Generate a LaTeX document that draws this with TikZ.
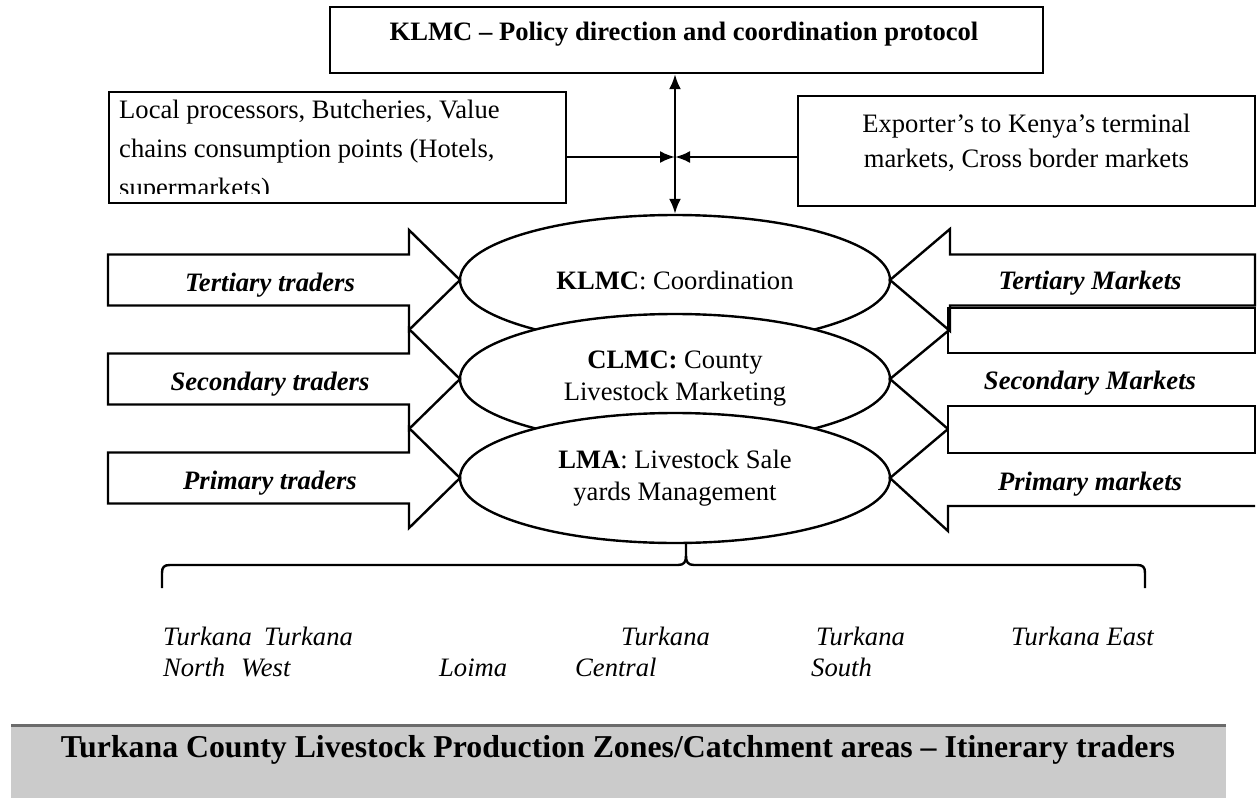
\documentclass[tikz,border=0pt]{standalone}
\usepackage{fontspec}
\setmainfont{Liberation Serif}
\usetikzlibrary{calc,shapes.geometric,arrows.meta}
\newcommand\txt{\fontsize{13.3}{16}\selectfont}
\newcommand\bartxt{\fontsize{15.9}{19}\selectfont}
\definecolor{barfill}{HTML}{CBCBCB}
\definecolor{barline}{HTML}{6B6B6B}
\tikzset{
  box/.style={draw,inner sep=0pt,minimum width=228.5pt,minimum height=55.5pt},
  oval/.style={draw,fill=white,ellipse,inner sep=0pt,minimum width=215pt,minimum height=65pt,align=center,font=\txt},
  line/.style={anchor=base,inner sep=0pt,font=\txt},
  lbl/.style={anchor=base,inner sep=0pt,font=\txt\bfseries\itshape},
  zone/.style={anchor=base west,inner sep=0pt,font=\txt\itshape},
  tip/.style={-{Latex[length=7.5pt,width=6pt]}},
  dbltip/.style={{Latex[length=7.5pt,width=6pt]}-{Latex[length=7.5pt,width=6pt]}}
}
\begin{document}
\begin{tikzpicture}[x=0.5pt,y=-0.5pt,line width=1.2pt]
      \useasboundingbox (0,0) rectangle (1259,798);
      % policy box
      \node[box,minimum width=356.5pt,minimum height=33pt] (policy) at (686.5,40) {};
      \node[line,font=\txt\bfseries] (policytext) at (684,40) {KLMC – Policy direction and coordination protocol};
      % buyers and exporters
      \node[box] (buyers) at (337.5,147.5) {};
      \begin{scope}
        \clip (109,92) rectangle (566,193);
        \node[line,anchor=base west] (buyers1) at (118,118) {Local processors, Butcheries, Value};
        \node[line,anchor=base west] (buyers2) at (118,157) {chains consumption points (Hotels,};
        \node[line,anchor=base west] (buyers3) at (118,196) {supermarkets)};
      \end{scope}
      \node[box,minimum height=55pt] (exporters) at (1026.5,151) {};
      \node[line] (exporters1) at (1026.5,132) {Exporter’s to Kenya’s terminal};
      \node[line] (exporters2) at (1026.5,167) {markets, Cross border markets};
      % ovals
      \node[oval] (klmc) at (675,280) {\textbf{KLMC}: Coordination};
      \node[oval] (clmc) at (675,379) {\textbf{CLMC:} County\\Livestock Marketing};
      \node[oval] (lma) at (675,478) {\textbf{LMA}: Livestock Sale\\yards Management};
      \coordinate (hub) at (675,157);
      \draw[dbltip] (klmc.north |- policy.south) -- (klmc.north);
      \draw[tip] (buyers.east |- hub) -- (hub);
      \draw[tip] (exporters.west |- hub) -- (hub);
      % traders
      \foreach \y/\name [count=\i] in {280/Tertiary traders,379/Secondary traders,478/Primary traders}{
        \draw (108,{\y-25.5}) -- (409,{\y-25.5}) -- (409,{\y-50}) -- (460,\y) -- (409,{\y+50})
          -- (409,{\y+25.5}) -- (108,{\y+25.5}) -- cycle;
        \node[lbl] (trader\i) at (270,{\y+11}) {\name};
      }
      % markets
      \draw (1255,254.5) -- (950,254.5) -- (950,229) -- (890,280) -- (950,331) -- (950,305.5) -- (1255,305.5) -- cycle;
      \draw (948,308) rectangle (1255,353);
      \draw (948,331) -- (890,379) -- (948,429);
      \draw (948,406) rectangle (1255,453);
      \draw (948,429) -- (890,478) -- (948,531) -- (948,506) -- (1255,506);
      \node[lbl] (market1) at (1090,289) {Tertiary Markets};
      \node[lbl] (market2) at (1090,389) {Secondary Markets};
      \node[lbl] (market3) at (1090,490) {Primary markets};
      % brace
      \coordinate (bracetip) at (686,544);
      \draw (162,588) -- (162,573) .. controls (162,567) and (164,565) .. (170,565) -- (678,565)
        .. controls (684,565) and (686,562) .. (686,556) -- (bracetip);
      \draw (686,556) .. controls (686,562) and (688,565) .. (694,565) -- (1137,565)
        .. controls (1143,565) and (1145,567) .. (1145,573) -- (1145,588);
      % zones
      \node[zone] (z1) at (162,645) {Turkana};
      \node[zone] (z2) at (263,645) {Turkana};
      \node[zone] (z3) at (620,645) {Turkana};
      \node[zone] (z4) at (815,645) {Turkana};
      \node[zone] (z5) at (1010,645) {Turkana East};
      \node[zone] (z6) at (162,676) {North};
      \node[zone] (z7) at (240,676) {West};
      \node[zone] (z8) at (438,676) {Loima};
      \node[zone] (z9) at (574,676) {Central};
      \node[zone] (z10) at (810,676) {South};
      % catchment bar
      \fill[barfill] (11,727) rectangle (1226,798);
      \draw[barline,line width=1.7pt] (11,725.3) -- (1226,725.3);
      \node[anchor=base,inner sep=0pt,font=\bartxt\bfseries] (zones) at (618,757) {Turkana County Livestock Production Zones/Catchment areas – Itinerary traders};
    \end{tikzpicture}
\end{document}
